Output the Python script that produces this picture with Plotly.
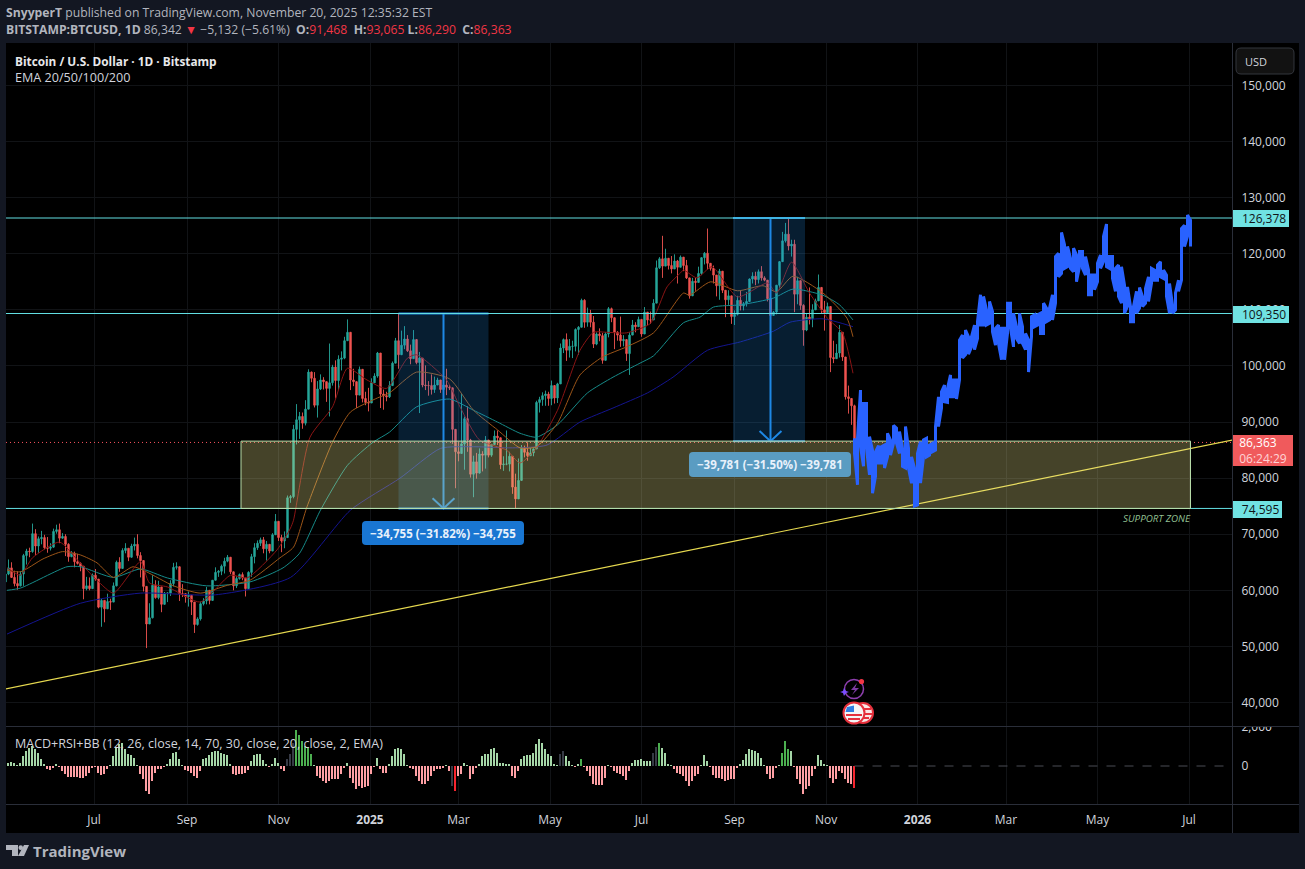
import pandas as pd
import plotly.graph_objects as go

W, H = 1305, 869

# ---------- data (prices in thousands of USD) ----------
first_open = 61.5
closes = [62.9,64.0,62.3,61.2,60.8,62.9,66.2,67.0,66.9,70.1,67.9,69.2,69.4,67.6,67.5,
67.7,70.5,70.8,69.3,69.6,68.2,66.0,66.6,65.1,64.8,64.3,60.3,60.8,60.3,62.7,
62.0,57.0,58.2,56.7,58.0,57.9,60.8,65.0,63.9,67.1,67.5,65.9,67.9,68.2,66.2,
65.3,60.7,54.0,55.1,60.9,58.7,60.6,57.5,59.5,59.5,61.2,64.1,64.2,59.4,59.4,58.9,
59.1,57.9,53.9,54.9,57.6,58.1,60.0,58.2,61.8,63.2,63.4,64.3,65.2,65.9,63.3,
60.8,62.1,62.8,62.2,60.3,63.2,66.0,67.6,68.4,69.0,67.4,68.2,67.0,69.9,72.3,
69.4,68.8,69.4,76.5,76.7,88.7,90.4,91.0,89.8,92.3,98.9,97.8,93.0,95.9,97.5,
97.2,96.0,97.0,99.8,97.4,101.2,101.4,104.5,106.0,97.5,97.2,94.8,99.4,94.2,93.5,93.4,
97.0,98.2,102.3,95.0,94.7,94.5,96.5,100.5,104.5,102.0,103.7,104.8,102.7,101.3,104.7,
100.6,101.4,96.6,96.5,96.5,95.8,96.6,97.5,95.8,96.6,96.2,96.1,88.7,84.7,
84.4,86.1,90.6,86.8,80.7,82.9,80.9,84.3,84.1,86.8,84.1,86.0,87.5,87.2,82.4,82.5,
82.5,83.9,78.4,76.3,79.6,85.3,84.6,84.0,84.5,85.2,93.5,94.0,94.7,95.0,94.2,
96.5,94.3,96.8,103.2,104.7,102.8,103.5,103.5,106.5,106.9,111.7,107.8,109.4,107.8,103.9,
105.7,105.4,101.0,105.7,110.2,108.6,106.0,105.5,104.5,104.7,102.2,105.5,107.3,107.0,108.3,
105.7,109.6,108.2,108.2,111.2,117.5,119.1,117.8,119.2,117.9,117.3,118.7,117.6,119.4,117.9,115.7,
112.5,115.1,114.9,116.5,119.3,120.1,118.3,117.4,116.2,114.3,116.9,113.5,111.8,112.5,108.8,
109.2,111.7,110.7,111.1,111.5,115.5,116.0,115.4,116.8,115.7,115.3,112.0,109.0,109.6,114.4,
118.6,122.3,123.5,121.4,121.7,112.8,115.2,110.8,106.4,108.7,108.4,110.0,111.6,114.0,110.0,109.5,
110.6,101.5,101.3,102.3,106.0,101.6,94.5,94.2,92.9,86.3]

highs = [63.4,65.5,65.0,63.5,63.4,63.4,66.5,67.4,67.6,71.9,70.9,69.6,70.6,69.9,69.5,
68.4,71.0,71.7,71.9,70.2,70.0,68.4,67.0,66.9,66.5,65.0,64.0,62.4,62.3,63.0,
63.8,62.0,58.5,58.2,59.4,58.5,61.4,65.3,65.9,67.5,68.4,67.5,68.3,69.4,70.0,
66.8,62.2,58.3,57.7,62.7,61.8,61.7,59.7,59.7,59.6,61.8,64.9,65.0,63.3,61.1,59.4,
59.8,58.5,57.0,55.2,58.0,58.6,60.6,59.2,61.8,64.1,63.6,64.6,65.8,66.3,65.6,
62.4,62.5,63.0,63.2,61.3,63.4,66.5,68.4,68.9,69.4,69.5,68.8,67.9,70.2,73.6,
71.6,69.9,70.5,76.9,77.0,89.5,93.2,91.8,91.7,93.9,99.4,99.0,98.9,97.3,98.5,
98.0,96.3,104.0,100.2,101.0,101.9,102.6,105.2,108.3,102.8,99.5,96.4,99.9,97.4,95.4,96.1,
97.8,98.7,102.5,97.3,95.8,95.4,97.3,100.8,105.0,109.3,106.3,107.1,105.5,103.8,106.4,
102.8,102.5,98.8,100.1,97.3,98.5,98.1,97.9,97.0,96.9,99.5,96.6,92.5,87.0,
86.5,95.0,91.0,92.8,87.0,84.0,84.5,85.3,84.8,87.5,85.8,86.1,88.5,88.5,84.7,83.9,
88.5,84.7,83.7,80.8,83.5,85.9,85.8,86.4,85.4,85.3,93.8,94.5,95.3,95.6,95.4,
97.4,96.4,97.0,104.0,104.9,105.8,104.8,104.5,106.7,107.1,112.0,111.9,110.4,110.0,108.9,
106.0,106.7,105.9,106.0,110.5,110.4,106.2,106.2,108.8,105.5,104.0,106.0,108.2,107.8,108.8,
107.6,110.5,108.4,109.7,111.9,118.8,119.4,123.2,120.9,119.0,119.6,119.9,118.9,119.7,119.2,118.9,
114.8,115.7,115.7,117.7,119.4,120.3,124.5,118.0,117.9,114.9,117.3,115.7,112.3,113.5,109.0,
109.9,112.5,113.4,111.4,113.2,115.6,116.7,116.8,117.2,117.8,116.0,113.5,112.0,109.8,114.4,
118.7,123.9,125.5,126.4,122.5,122.5,115.9,113.6,111.0,109.4,114.0,111.0,112.0,116.3,113.6,111.6,
111.3,106.5,104.5,103.9,107.3,105.5,99.9,96.5,93.8,93.1]

lows = [58.9,62.7,62.2,60.7,60.1,60.7,60.8,64.6,65.9,66.7,66.3,66.7,68.2,67.3,66.7,
67.1,67.6,70.1,68.4,69.2,66.1,65.1,65.9,64.1,64.6,63.4,58.4,60.0,60.0,60.7,
61.7,56.8,53.5,54.3,56.9,56.5,57.9,60.7,63.3,63.9,66.6,65.2,65.8,67.1,65.7,
62.3,59.8,49.7,54.6,55.0,58.5,58.4,56.1,58.3,57.9,59.0,60.7,63.7,58.1,58.8,57.8,
57.1,55.6,52.4,53.7,54.6,57.3,57.5,57.5,59.2,62.3,62.4,62.7,63.0,65.0,62.9,
60.0,60.4,61.9,61.8,58.9,60.4,62.4,64.8,67.2,67.9,66.6,65.3,66.6,67.4,71.5,
68.8,66.8,67.5,74.6,75.6,76.4,86.0,87.0,88.8,89.4,94.0,97.1,92.6,90.8,95.7,
95.8,93.6,91.0,96.5,94.2,95.7,99.2,101.2,105.3,95.7,96.4,92.5,97.6,93.5,93.0,91.9,
94.3,97.2,97.9,92.5,92.2,93.7,94.3,97.3,103.2,99.5,103.3,103.0,102.5,100.3,103.3,
100.3,91.6,96.2,95.7,94.7,94.9,95.2,97.0,95.2,95.5,94.8,95.7,86.1,78.2,
83.0,85.0,81.5,84.7,80.1,76.6,79.9,80.8,81.2,81.7,83.7,83.8,86.3,85.9,81.6,81.3,
82.3,81.2,77.2,74.6,78.4,79.9,83.7,83.1,84.0,83.9,87.0,91.7,92.9,92.9,92.9,
93.0,93.3,93.4,97.3,102.3,100.9,101.5,101.4,102.6,102.0,106.9,106.8,107.0,106.9,103.2,
103.7,104.4,100.4,103.5,105.1,107.8,103.0,104.5,103.4,103.5,100.9,98.4,105.6,106.0,107.2,
105.2,108.5,107.3,107.5,108.4,111.2,117.3,115.7,117.8,117.2,116.5,117.3,114.7,117.8,116.9,115.5,
112.0,113.7,113.4,115.9,116.2,118.1,117.2,117.0,114.7,112.4,111.8,113.0,108.7,110.9,107.5,
107.3,109.0,109.9,109.9,110.6,113.4,114.7,114.4,114.7,115.2,115.1,111.5,108.6,109.0,109.2,
113.9,118.9,122.0,120.6,119.5,109.6,111.0,110.0,103.6,106.2,107.4,106.9,110.6,113.8,109.3,106.3,
109.5,98.9,100.5,101.5,101.5,100.9,94.0,91.5,89.5,86.3]

ema20_day = [-58,-49,-41,-23,-11,2,13,31,37,49,71,91,102,122,131,133,144,159,169,182,195,209,215,235,244,257,275,284,295,309,324,333,342,355,371,382,391,393,402,412,429,449,455,465,477,489,499,506]
ema20_val = [64.0,62.7,65.8,68.6,65.4,61.8,59.5,65.1,61.3,60.6,57.9,62.7,62.2,67.2,71.1,72.5,87.3,92.7,99.6,97.5,96.0,101.4,102.0,97.5,92.7,86.8,85.0,82.7,85.4,92.1,102.8,106.0,106.0,105.9,107.6,114.1,116.6,117.1,115.7,117.7,112.3,114.8,113.0,118.5,113.0,108.5,105.9,98.7]
ema50_day = [-58,-49,-34,-21,-9,2,13,26,35,53,71,89,104,124,133,142,159,171,189,197,215,237,253,269,284,295,309,324,339,355,373,393,397,411,429,446,455,466,486,502,506]
ema50_val = [63.6,63.3,65.6,66.9,66.3,64.9,62.3,64.2,63.3,60.8,59.5,60.9,61.8,65.8,67.7,74.9,86.4,91.8,94.3,95.2,98.9,97.7,92.1,88.6,85.4,85.6,89.8,98.4,101.6,103.4,105.9,113.0,112.6,115.0,113.4,114.3,113.2,116.0,113.0,108.5,105.2]
ema100_day = [-58,-49,-18,-9,13,31,49,75,104,126,137,151,169,186,197,215,237,253,269,284,295,309,329,346,364,373,393,404,413,431,453,466,486,497,506]
ema100_val = [60.0,60.4,64.2,64.2,62.3,63.8,62.2,60.8,61.5,64.0,66.6,74.3,82.3,86.4,88.2,92.7,94.1,92.1,90.0,88.0,87.3,89.5,95.2,98.0,100.5,101.8,107.7,108.7,110.5,110.9,112.1,113.7,112.6,110.9,108.2]
ema200_day = [-58,-9,31,81,131,171,204,231,253,279,302,324,346,369,386,409,431,453,464,486,506]
ema200_val = [52.2,57.7,59.5,59.2,62.3,74.3,80.0,85.3,85.6,85.4,85.9,90.0,92.5,95.2,98.0,102.8,104.3,106.2,107.8,108.4,107.0]

forecast_high = [87.1,87.1,95.7,93.3,93.3,87.4,85.0,84.7,85.8,85.6,85.9,88.0,86.8,89.4,88.9,88.3,85.3,89.2,85.3,83.8,81.8,84.4,86.5,86.8,87.1,85.9,86.2,89.2,94.5,95.4,96.6,96.0,98.4,97.5,97.5,104.6,105.5,106.4,105.2,105.2,107.3,107.9,112.7,112.4,110.0,111.5,109.7,106.7,107.3,106.7,106.7,111.2,111.2,109.4,107.0,109.4,107.0,105.8,104.6,108.8,109.1,109.1,109.4,111.2,110.3,110.3,112.7,119.5,120.1,123.8,121.6,121.3,119.2,121.0,119.8,120.4,120.4,119.5,117.1,116.2,116.2,118.3,119.8,123.1,125.3,119.5,119.5,117.4,118.0,117.7,114.4,114.1,110.6,110.6,113.3,114.0,112.4,113.8,115.9,117.4,117.1,118.0,118.6,117.1,116.2,114.7,110.9,113.0,115.3,124.5,125.1,126.9,126.0]
forecast_low = [84.4,78.8,85.6,82.1,85.3,80.6,77.3,80.3,82.7,82.7,81.8,83.8,84.1,86.2,86.2,84.4,82.1,81.8,81.8,79.1,75.0,75.2,79.1,83.8,83.8,84.1,84.7,85.0,89.2,92.5,93.6,93.5,94.5,94.5,94.1,97.5,101.4,102.0,102.1,103.4,102.9,104.9,107.3,107.3,107.3,107.6,106.1,103.7,104.0,101.1,101.1,105.8,106.7,103.4,104.9,104.0,104.0,102.9,98.9,105.2,107.0,107.3,105.8,105.8,107.9,108.2,108.2,111.2,115.9,116.5,117.4,117.7,117.4,116.8,115.0,117.7,117.4,116.2,112.7,112.7,113.6,115.0,117.4,118.6,117.7,117.4,115.6,113.3,112.4,111.2,109.4,110.6,107.9,107.9,109.4,110.3,110.6,111.2,111.5,114.7,115.3,115.3,115.9,115.6,112.4,109.4,109.4,110.0,113.3,115.3,121.3,123.1,121.3]

macd_read = [5,10,12,8,3,8,30,45,55,60,50,40,20,5,-8,-12,-5,5,-3,-15,-25,-32,-33,-33,-33,-35,-35,-30,-20,-5,-3,-20,-28,-25,-8,3,30,55,65,68,50,35,33,25,3,-25,-40,-75,-85,-45,-20,-10,-8,-3,5,20,40,43,20,3,-12,-15,-22,-30,-35,-15,20,25,33,43,46,44,38,35,33,5,-25,-26,-25,-25,-20,-12,15,32,37,36,18,5,-3,5,25,10,-8,-15,20,35,70,108,95,75,60,55,35,3,-30,-35,-45,-50,-45,-40,-38,-40,-25,-5,8,-35,-50,-70,-60,-65,-62,-60,-25,-3,25,-10,-20,-20,5,30,50,55,50,35,3,-5,-10,-30,-45,-55,-55,-45,-30,-15,-10,
-10,-5,3,-15,-60,-75,-30,-25,10,2,-40,-25,-5,5,30,35,35,50,53,40,10,8,5,5,-30,-35,-15,20,30,33,33,38,65,82,70,50,35,30,5,3,35,45,30,15,3,-2,5,22,-3,-15,-30,-55,-58,-58,-58,-35,3,-3,-15,-20,-25,-30,-42,-15,8,18,17,20,15,15,15,40,58,70,55,40,5,1,-8,-20,-25,-30,-45,-60,-45,-30,-25,3,32,15,-2,-28,-35,-35,-40,-45,-42,-40,-40,-5,5,18,35,50,48,45,40,25,3,-25,-40,-35,-5,3,40,75,50,45,-3,-40,-55,-85,-70,-60,-30,-8,32,18,5,3,-35,-50,-40,-15,-20,-40,-50,-55,-65]
macd_units_per_read = 17
macd_special = {94:"#363a45",95:"#363a45",96:"#363a45",97:"#4caf50",98:"#4caf50",99:"#4caf50",100:"#4caf50",101:"#4caf50",102:"#4caf50",
                149:"#363a45",150:"#f7252f",185:"#363a45",186:"#363a45",192:"#4caf50",216:"#363a45",217:"#363a45",218:"#4caf50",
                259:"#4caf50",260:"#4caf50",261:"#4caf50",283:"#f7252f"}

month_ticks = ["2024-07-01","2024-09-01","2024-11-01","2025-01-01","2025-03-01","2025-05-01","2025-07-01","2025-09-01","2025-11-01","2026-01-01","2026-03-01","2026-05-01","2026-07-01"]
month_text = ["Jul","Sep","Nov","<b>2025</b>","Mar","May","Jul","Sep","Nov","<b>2026</b>","Mar","May","Jul"]
price_ticks = list(range(40000, 150001, 10000))

resist_top, resist_mid, support, last_price = 126378, 109350, 74595, 86363
trend_x, trend_y = ["2024-05-03", "2026-07-30"], [42400, 86800]

# ---------- helpers ----------
FONT = "Open Sans"
px = lambda x: x / W
py = lambda y: 1 - y / H
k = lambda seq: [v * 1000 for v in seq]
start = pd.Timestamp("2024-05-03")
origin = pd.Timestamp("2024-07-01")
cdates = [start + pd.Timedelta(days=2 * i) for i in range(len(closes))]
fdates = [pd.Timestamp("2025-11-20") + pd.Timedelta(days=2 * i) for i in range(len(forecast_high))]
fd = lambda days: [origin + pd.Timedelta(days=d) for d in days]
x_range = [pd.Timestamp("2024-05-03 08:00"), pd.Timestamp("2026-07-29 16:00")]

fig = go.Figure()
fig.add_trace(go.Candlestick(x=cdates, open=k([first_open] + closes[:-1]), high=k(highs), low=k(lows), close=k(closes),
    increasing=dict(line=dict(color="#26a69a", width=0.9), fillcolor="#26a69a"),
    decreasing=dict(line=dict(color="#ef5350", width=0.9), fillcolor="#ef5350"),
    hoverinfo="skip", showlegend=False, whiskerwidth=0))

def line(xs, ys, color, width=1, dash=None, shape=None, **kw):
    fig.add_trace(go.Scatter(x=xs, y=ys, mode="lines", hoverinfo="skip", showlegend=False,
        line=dict(color=color, width=width, dash=dash, shape=shape, **({"smoothing": 0.6} if shape == "spline" else {})), **kw))

line(fd(ema200_day), k(ema200_val), "#14148f", 1, shape="spline")
line(fd(ema100_day), k(ema100_val), "#168a88", 1, shape="spline")
line(fd(ema50_day), k(ema50_val), "#9c5518", 1, shape="spline")
line(fd(ema20_day), k(ema20_val), "#8a1414", 1, shape="spline")

line(x_range, [last_price] * 2, "#f7525f", 1, dash="1px,3px")
line(trend_x, trend_y, "#e6d94f", 1.2)

# measure tools
boxes = [("2025-01-20", "2025-03-21", "2025-02-19", resist_mid, support),
         ("2025-08-31", "2025-10-18", "2025-09-25", resist_top, 86597)]
for a, b, m, top, bot in boxes:
    fig.add_trace(go.Scatter(x=[a, b, b, a, a], y=[top, top, bot, bot, top], mode="lines", fill="toself",
        fillcolor="rgba(33,150,243,0.20)", line=dict(width=0), hoverinfo="skip", showlegend=False))
    line([a, b], [top, top], "#1e88e5", 2)
    line([a, b], [bot, bot], "#1e88e5", 2)
    line([m, m], [top, bot], "#1e88e5", 2)
    mt = pd.Timestamp(m)
    line([mt - pd.Timedelta(days=7.3), mt, mt + pd.Timedelta(days=7.3)], [bot + 1800, bot, bot + 1800], "#1e88e5", 2)

for lvl in (resist_top, resist_mid, support):
    line(x_range, [lvl, lvl], "#62dfe2", 1)

# support zone
za, zb = "2024-10-07", "2026-07-02"
fig.add_trace(go.Scatter(x=[za, zb, zb, za, za], y=[86600, 86600, support, support, 86600], mode="lines", fill="toself",
    fillcolor="rgba(238,232,140,0.29)", line=dict(color="#b6dca8", width=1), hoverinfo="skip", showlegend=False))

# forecast path
fx, fy = [], []
for i, d in enumerate(fdates):
    pair = (forecast_high[i], forecast_low[i]) if i % 2 == 0 else (forecast_low[i], forecast_high[i])
    fx += [d, d]
    fy += [pair[0] * 1000, pair[1] * 1000]
line(fx, fy, "#2962ff", 3)

# MACD pane
macd_vals = [v * macd_units_per_read for v in macd_read]
mcolors = [macd_special.get(i, "#a5d6a7" if v >= 0 else "#ff9fa4") for i, v in enumerate(macd_vals)]
fig.add_trace(go.Bar(x=cdates[:len(macd_vals)], y=macd_vals, marker=dict(color=mcolors, line=dict(width=0)),
    width=1.25 * 86400000, xaxis="x2", yaxis="y2", hoverinfo="skip", showlegend=False))
fig.add_trace(go.Scatter(x=[cdates[-1], x_range[1]], y=[0, 0], mode="lines", line=dict(color="#4a4d55", width=1, dash="dash"),
    xaxis="x2", yaxis="y2", hoverinfo="skip", showlegend=False))

# ---------- shapes ----------
def rr(x0, y0, x1, y1, r):
    X = lambda v: f"{px(v):.5f}"
    Y = lambda v: f"{py(v):.5f}"
    return (f"M{X(x0+r)},{Y(y0)} L{X(x1-r)},{Y(y0)} Q{X(x1)},{Y(y0)} {X(x1)},{Y(y0+r)} L{X(x1)},{Y(y1-r)} "
            f"Q{X(x1)},{Y(y1)} {X(x1-r)},{Y(y1)} L{X(x0+r)},{Y(y1)} Q{X(x0)},{Y(y1)} {X(x0)},{Y(y1-r)} "
            f"L{X(x0)},{Y(y0+r)} Q{X(x0)},{Y(y0)} {X(x0+r)},{Y(y0)} Z")

def poly(pts):
    return "M" + " L".join(f"{px(a):.5f},{py(b):.5f}" for a, b in pts) + " Z"

shapes = [dict(type="rect", xref="paper", yref="paper", x0=px(6), x1=px(1299), y0=py(833), y1=py(43),
               fillcolor="#000000", line=dict(width=0), layer="below")]
def pl(x0, y0, x1, y1, c="#2a2e39", w=1):
    shapes.append(dict(type="line", xref="paper", yref="paper", x0=px(x0), x1=px(x1), y0=py(y0), y1=py(y1), line=dict(color=c, width=w), layer="above"))
pl(1232.5, 43, 1232.5, 833)
pl(6, 726.5, 1299, 726.5)
pl(6, 804.5, 1299, 804.5)
def fillpath(path, fill, stroke=None, sw=1):
    shapes.append(dict(type="path", xref="paper", yref="paper", path=path, fillcolor=fill, line=dict(color=stroke or fill, width=sw if stroke else 0), layer="above"))
fillpath(rr(362, 521, 524, 545, 4), "#1976d2")
fillpath(rr(689, 452, 851, 477, 4), "#5a9cc2")
fillpath(rr(1236, 48, 1294, 74, 5), "#121212", "#33363d", 1)
# TradingView logo
fillpath(poly([(6, 845), (18, 845), (18, 856), (12, 856), (12, 850), (6, 850)]), "#b2b5be")
fillpath(poly([(24, 845), (29, 845), (24, 856), (18, 856)]), "#b2b5be")
shapes.append(dict(type="circle", xref="paper", yref="paper", x0=px(18.5), x1=px(23), y0=py(850), y1=py(845.3), fillcolor="#b2b5be", line=dict(width=0)))
# event icons
def circ(cx, cy, r, fill, stroke=None, sw=1.5):
    shapes.append(dict(type="circle", xref="paper", yref="paper", x0=px(cx - r), x1=px(cx + r), y0=py(cy + r), y1=py(cy - r),
                       fillcolor=fill, line=dict(color=stroke or fill, width=sw if stroke else 0), layer="above"))
circ(854, 689, 9.5, "#000000", "#8e3fae", 1.5)
circ(861.5, 681.5, 2.6, "#f23645")
fillpath(poly([(857, 683), (851, 690), (855, 690), (852, 695), (859, 688), (855, 688)]), "#7e3ba3")
fillpath(poly([(844, 688), (846, 691), (849, 692), (846, 693), (844, 696), (843, 693), (840, 692), (843, 691)]), "#7c4dff")
circ(863, 713, 10, "#f9e7e7", "#e5303c", 2)
pl(858, 709, 871, 709, "#e5303c", 2)
pl(858, 714, 872, 714, "#e5303c", 2)
pl(858, 718, 869, 718, "#e5303c", 2)
circ(854, 713, 10.5, "#f5f5f5", "#e5303c", 2)
pl(846, 715, 862, 715, "#e5303c", 2)
pl(848, 719, 860, 719, "#e5303c", 2)
fillpath(poly([(847, 707), (854, 705.5), (854, 712), (845.5, 712)]), "#2f7de0")

# ---------- texts ----------
anns = []
def T(x, y, text, size=12, color="#d1d4dc", anchor="left", bg=None, w=None, h=None, align=None):
    a = dict(xref="paper", yref="paper", x=px(x), y=py(y), text=text, showarrow=False, xanchor=anchor, yanchor="middle",
             font=dict(family=FONT, size=size, color=color), borderpad=0, borderwidth=0)
    if bg: a["bgcolor"] = bg
    if w: a["width"] = w
    if h: a["height"] = h
    if align: a["align"] = align
    anns.append(a)

T(6, 12.5, "<b>SnyyperT</b> published on TradingView.com, November 20, 2025 12:35:32 EST", 12.2, "#b2b5be")
r = '<span style="color:#f23645">'
n = "&nbsp;"
T(6, 29.5, f'<b>BITSTAMP:BTCUSD, 1D</b> 86,342 {r}▼</span> −5,132 (−5.61%){n} <b>O:</b>{r}91,468</span>{n} <b>H:</b>{r}93,065</span> <b>L:</b>{r}86,290</span>{n} <b>C:</b>{r}86,363</span>', 12.2, "#b2b5be")
T(15, 60.5, "<b>Bitcoin / U.S. Dollar · 1D · Bitstamp</b>", 11.8, "#e8e8ea")
T(15, 77.5, "EMA 20/50/100/200", 12.6, "#d1d4dc")
T(15, 743.5, "MACD+RSI+BB (12, 26, close, 14, 70, 30, close, 20, close, 2, EMA)", 12.5, "#d1d4dc")
T(443, 533, "<b>−34,755 (−31.82%) −34,755</b>", 11.5, "#e8f1fb", "center")
T(770, 464.5, "<b>−39,781 (−31.50%) −39,781</b>", 11.5, "#e8f1fb", "center")
T(1190.5, 518, "<i>SUPPORT ZONE</i>", 9.8, "#93c193", "right")
T(1245, 61.5, "USD", 11, "#d1d4dc")
tag = "#70e2e2"
T(1233, 218, f"{n}{n}126,378", 12, "#101418", bg=tag, w=56, h=17, align="center")
T(1233, 314.5, f"{n}{n}109,350", 12, "#101418", bg=tag, w=56, h=17, align="center")
T(1233, 509, f"{n}{n}74,595", 12, "#101418", bg=tag, w=49, h=17, align="center")
T(1233, 450.5, f'{n}{n}86,363<br>{n}{n}<span style="color:#ffd4d6">06:24:29</span>', 12, "#ffffff", bg="#f05a5c", w=60, h=31, align="left")
T(1236, 719, " ", 12, "#000000", bg="#000000", w=60, h=13.5)
T(33, 850.5, "<b>TradingView</b>", 15, "#b2b5be")

ax_font = dict(family=FONT, size=12, color="#d1d4dc")
grid = "#111316"
y_top = 150000 + (85.5 - 43) / 0.0056090
y_bot = 40000 - (726 - 702.5) / 0.0056090
fig.update_layout(
    width=W, height=H, margin=dict(l=0, r=0, t=0, b=0, pad=0, autoexpand=False), autosize=False,
    paper_bgcolor="#131722", plot_bgcolor="rgba(0,0,0,0)", showlegend=False, hovermode=False,
    bargap=0, shapes=shapes, annotations=anns, font=dict(family=FONT),
    xaxis=dict(domain=[px(6), px(1232)], range=x_range, type="date", anchor="y", showticklabels=False, ticks="",
               tickvals=month_ticks, showgrid=True, gridcolor=grid, gridwidth=1, rangeslider=dict(visible=False), zeroline=False, showline=False),
    yaxis=dict(domain=[py(726), py(43)], range=[y_bot, y_top], side="right", anchor="x", tickvals=price_ticks, tickformat=",d",
               tickfont=ax_font, showgrid=True, gridcolor=grid, gridwidth=1, zeroline=False, ticks="outside", ticklen=6, tickcolor="rgba(0,0,0,0)", showline=False),
    xaxis2=dict(domain=[px(6), px(1232)], range=x_range, type="date", anchor="y2", matches="x", tickvals=month_ticks, ticktext=month_text,
                tickfont=ax_font, ticks="outside", ticklen=5, tickcolor="rgba(0,0,0,0)", showgrid=True, gridcolor=grid, gridwidth=1, zeroline=False, showline=False),
    yaxis2=dict(domain=[py(804), py(727)], range=[-1950, 2001], side="right", anchor="x2", tickvals=[0, 2000], ticktext=["0", "2,000"],
                tickfont=ax_font, showgrid=False, zeroline=False, ticks="outside", ticklen=6, tickcolor="rgba(0,0,0,0)", showline=False),
)
fig.write_html("out.html", config=dict(displayModeBar=False), post_script="document.body.style.margin='0';document.body.style.overflow='hidden';")
